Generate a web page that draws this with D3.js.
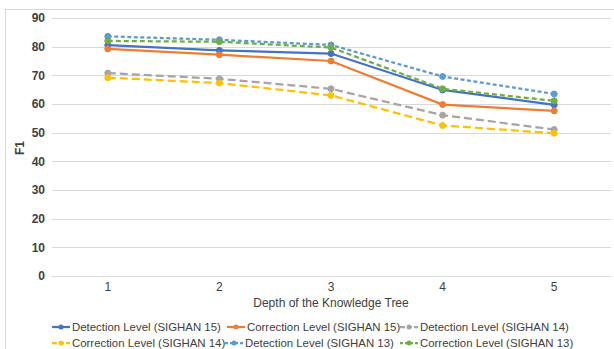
<!DOCTYPE html>
<html><head><meta charset="utf-8">
<script src="https://cdn.jsdelivr.net/npm/d3@7"></script>
<style>body{margin:0;background:#fff;}svg{display:block;font-family:"Liberation Sans",Arial,sans-serif;}</style>
</head><body><svg id="c" width="614" height="349"></svg>
<script>
const categories = ["1","2","3","4","5"];
const seriesNames = ["Detection Level (SIGHAN 15)","Correction Level (SIGHAN 15)","Detection Level (SIGHAN 14)","Correction Level (SIGHAN 14)","Detection Level (SIGHAN 13)","Correction Level (SIGHAN 13)"];
const det15 = [80.5, 78.7, 77.6, 64.9, 59.7];
const cor15 = [79.2, 77.2, 75.0, 59.8, 57.6];
const det14 = [70.8, 68.8, 65.3, 56.1, 51.1];
const cor14 = [69.2, 67.3, 63.0, 52.5, 49.8];
const det13 = [83.6, 82.4, 80.6, 69.6, 63.5];
const cor13 = [82.0, 81.7, 79.7, 65.3, 61.1];
const yTicks = [0,10,20,30,40,50,60,70,80,90];
const colors = ["#4472C4","#ED7D31","#A5A5A5","#FFC000","#5B9BD5","#70AD47"];
const dashes = [null,null,"8,4","8,4","4,2.5","5,3"];
const values = [det15,cor15,det14,cor14,det13,cor13];

const svg = d3.select("#c");
svg.append("rect").attr("x",5.5).attr("y",9.5).attr("width",640).attr("height",400)
  .attr("fill","none").attr("stroke","#d9d9d9");

const x = d3.scaleBand().domain(categories).range([52,610]);
const y = d3.scaleLinear().domain([0,90]).range([276,18]);

svg.append("g").selectAll("line").data(yTicks).join("line")
  .attr("x1",52).attr("x2",611).attr("y1",d=>Math.round(y(d))+0.5).attr("y2",d=>Math.round(y(d))+0.5)
  .attr("stroke","#d9d9d9").attr("stroke-width",1);

const ya = svg.append("g").attr("transform","translate(45,0)")
  .call(d3.axisLeft(y).tickValues(yTicks).tickSize(0).tickPadding(0));
ya.select(".domain").remove();
ya.selectAll("text").attr("font-size",12).attr("font-weight","bold").attr("fill","#404040")
  .attr("font-family","Liberation Sans, Arial, sans-serif");

const xa = svg.append("g").attr("transform","translate(0,282)")
  .call(d3.axisBottom(x).tickSize(0).tickPadding(0));
xa.select(".domain").remove();
xa.selectAll("text").attr("font-size",12).attr("fill","#404040")
  .attr("font-family","Liberation Sans, Arial, sans-serif");

svg.append("text").attr("x",331).attr("y",307).attr("text-anchor","middle")
  .attr("font-size",12).attr("fill","#404040").text("Depth of the Knowledge Tree");
svg.append("text").attr("transform","translate(24,148) rotate(-90)").attr("text-anchor","middle")
  .attr("font-size",12).attr("font-weight","bold").attr("fill","#404040").text("F1");

const line = d3.line().x((d,i)=>x(categories[i])+x.bandwidth()/2).y(d=>y(d));
values.forEach((vals,k)=>{
  const g = svg.append("g");
  g.append("path").datum(vals).attr("d",line).attr("fill","none")
    .attr("stroke",colors[k]).attr("stroke-width",2.25)
    .attr("stroke-dasharray",dashes[k]);
  g.selectAll("circle").data(vals).join("circle")
    .attr("cx",(d,i)=>x(categories[i])+x.bandwidth()/2).attr("cy",d=>y(d)).attr("r",3)
    .attr("fill",colors[k]).attr("stroke",colors[k]);
});

const legPos = [[52,327],[227,327],[400,327],[52,343],[225,343],[400,343]];
seriesNames.forEach((n,k)=>{
  const [lx,ly] = legPos[k];
  const g = svg.append("g");
  g.append("line").attr("x1",lx).attr("x2",lx+18).attr("y1",ly).attr("y2",ly)
    .attr("stroke",colors[k]).attr("stroke-width",2.25).attr("stroke-dasharray",dashes[k] ? (k>=4?"3,2":"5,2"):null);
  g.append("circle").attr("cx",lx+9).attr("cy",ly).attr("r",2.5).attr("fill",colors[k]);
  g.append("text").attr("x",lx+20).attr("y",ly+4).attr("font-size",11.4).attr("fill","#404040")
    .text(n);
});
</script></body></html>
